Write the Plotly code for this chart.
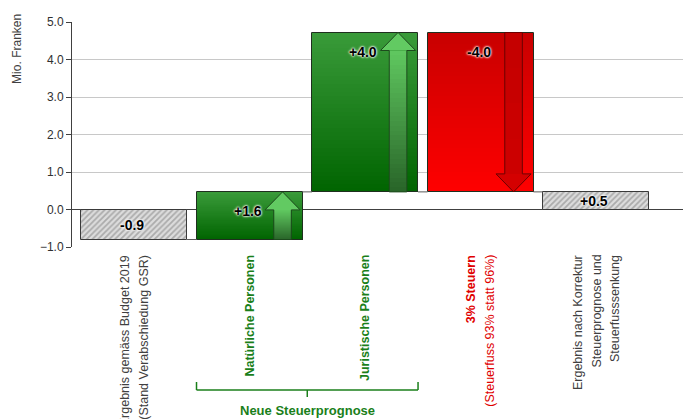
import plotly.graph_objects as go

# ---------------- data ----------------
category_lines = [
    ["Ergebnis gemäss Budget 2019", "(Stand Verabschiedung GSR)"],
    ["Natürliche Personen"],
    ["Juristische Personen"],
    ["3% Steuern", "(Steuerfuss 93% statt 96%)"],
    ["Ergebnis nach Korrektur", "Steuerprognose und", "Steuerfusssenkung"],
]
bar_start = [0.0, -0.8, 0.47, 4.72, 0.0]
bar_end = [-0.8, 0.47, 4.72, 0.47, 0.47]
value_labels = ["-0.9", "+1.6", "+4.0", "-4.0", "+0.5"]
group_label = "Neue Steuerprognose"
group_members = [1, 2]
y_ticks = [-1, 0, 1, 2, 3, 4, 5]

# ---------------- style ----------------
FONT = "Liberation Sans, Arial, sans-serif"
W = 0.918
GREEN_TXT = "#1a7f1a"
RED_TXT = "#e00000"
GRAY_TXT = "#404040"
cat_colors = [GRAY_TXT, GREEN_TXT, GREEN_TXT, RED_TXT, GRAY_TXT]
bold_first = [False, True, True, True, False]
totals = [0, 4]

PLOT_BOTTOM_PX = 247
PLOT_H_PX = 225


def py(px):
    return (PLOT_BOTTOM_PX - px) / PLOT_H_PX


def lerp(c0, c1, t):
    return "rgb(%d,%d,%d)" % tuple(round(a + (b - a) * t) for a, b in zip(c0, c1))


fig = go.Figure()

x = list(range(len(bar_start)))


def grad_bar(xc, lo_from, to, c_from, c_to, width, offset, n=40):
    """Gradient from lo_from (colour c_from) to 'to' (colour c_to) using overlapping slices."""
    xs, bases, hs, cols = [], [], [], []
    for k in range(n):
        yk = lo_from + (to - lo_from) * k / n
        xs.append(xc)
        bases.append(min(yk, to))
        hs.append(abs(to - yk))
        cols.append(lerp(c_from, c_to, (k + 0.5) / n))
    fig.add_bar(x=xs, y=hs, base=bases, width=width, offset=offset,
                marker=dict(color=cols, line=dict(width=0)),
                hoverinfo="skip")


# hatched total bars
fig.add_bar(
    x=[x[i] for i in totals],
    base=[min(bar_start[i], bar_end[i]) for i in totals],
    y=[abs(bar_end[i] - bar_start[i]) for i in totals],
    width=W,
    marker=dict(color="#dcdcdc",
                pattern=dict(shape="/", fgcolor="#7a7a7a", bgcolor="#dcdcdc", size=4, solidity=0.45),
                line=dict(color="#3a3a3a", width=1)),
    hoverinfo="skip",
)

# gradient change bars
GREEN_BOTTOM, GREEN_TOP = (0, 100, 0), (58, 155, 58)
RED_BOTTOM, RED_TOP = (255, 0, 0), (200, 0, 0)
for i in x:
    if i in totals:
        continue
    lo, hi = min(bar_start[i], bar_end[i]), max(bar_start[i], bar_end[i])
    if bar_end[i] > bar_start[i]:
        grad_bar(x[i], lo, hi, GREEN_BOTTOM, GREEN_TOP, W, -W / 2)
    else:
        grad_bar(x[i], lo, hi, RED_BOTTOM, RED_TOP, W, -W / 2)

# bar outlines
chg = [i for i in x if i not in totals]
fig.add_bar(
    x=[x[i] for i in chg],
    base=[min(bar_start[i], bar_end[i]) for i in chg],
    y=[abs(bar_end[i] - bar_start[i]) for i in chg],
    width=W,
    marker=dict(color="rgba(0,0,0,0)", line=dict(color="#1f2f1f", width=1)),
    hoverinfo="skip",
)

# connectors
cx, cy = [], []
for i in range(len(x) - 1):
    a = {round(bar_start[i], 4), round(bar_end[i], 4)}
    b = {round(bar_start[i + 1], 4), round(bar_end[i + 1], 4)}
    common = a & b
    if common:
        lvl = min(common)
        cx += [x[i] + W / 2, x[i + 1] - W / 2, None]
        cy += [lvl, lvl, None]
fig.add_scatter(x=cx, y=cy, mode="lines", line=dict(color="#5a5a5a", width=1), hoverinfo="skip")

# arrows
DX = 0.286
SW = 0.076
HW = 0.152
HL = 0.48
for i in chg:
    tail, tip = bar_start[i], bar_end[i]
    d = 1 if tip > tail else -1
    hb = tip - d * HL
    xc = x[i] + DX
    if d > 0:
        grad_bar(x[i], tail, hb, (40, 100, 40), (96, 200, 96), 2 * SW, DX - SW, n=30)
        head_col = "rgb(98,202,98)"
        out_col = "#1d4a1d"
    else:
        grad_bar(x[i], tail, hb, (196, 0, 0), (205, 0, 0), 2 * SW, DX - SW, n=4)
        head_col = "rgb(212,0,0)"
        out_col = "#6a0000"
    fig.add_scatter(x=[xc - HW, xc + HW, xc, xc - HW], y=[hb, hb, tip, hb],
                    mode="lines", fill="toself", fillcolor=head_col,
                    line=dict(width=0, color=head_col), hoverinfo="skip")
    fig.add_scatter(
        x=[xc - SW, xc - SW, xc - HW, xc, xc + HW, xc + SW, xc + SW, xc - SW],
        y=[tail, hb, hb, tip, hb, hb, tail, tail],
        mode="lines", line=dict(color=out_col, width=1), hoverinfo="skip")

annotations = []

# value labels
for i in x:
    if i in totals:
        yv, ya, ys = (bar_start[i] + bar_end[i]) / 2, "middle", 0
    else:
        yv, ya, ys = max(bar_start[i], bar_end[i]), "top", -9
    annotations.append(dict(
        x=x[i], y=yv, xref="x", yref="y", text=value_labels[i], showarrow=False,
        xanchor="center", yanchor=ya, yshift=ys, xshift=-2,
        font=dict(family=FONT, size=14, color="#000000", weight="bold",
                  shadow="0px 0px 2px #ffffff, 0px 0px 2px #ffffff, 0px 0px 3px #ffffff"),
    ))

# category labels (rotated)
for i, lines in enumerate(category_lines):
    n = len(lines)
    for j, line in enumerate(lines):
        bold = bold_first[i] and j == 0
        annotations.append(dict(
            x=x[i], y=0, xref="x", yref="paper", text=line, showarrow=False,
            textangle=-90, xanchor="center", yanchor="top",
            xshift=(j - (n - 1) / 2) * 18.5, yshift=-6,
            font=dict(family=FONT, size=12.5, color=cat_colors[i],
                      weight="bold" if bold else "normal"),
        ))

# y axis title
annotations.append(dict(
    x=0, y=1.045, xref="paper", yref="paper", text="Mio. Franken", showarrow=False,
    textangle=-90, xanchor="center", yanchor="top", xshift=-55,
    font=dict(family=FONT, size=12, color=GRAY_TXT),
))

# group bracket
gx0 = x[group_members[0]] - W / 2
gx1 = x[group_members[-1]] + W / 2
gxm = (x[group_members[0]] + x[group_members[-1]]) / 2
shapes = []
seg = [
    (gx0, py(382), gx0, py(390)),
    (gx0, py(390), gx1, py(390)),
    (gx1, py(382), gx1, py(390)),
    (gxm, py(390), gxm, py(397)),
]
for a0, b0, a1, b1 in seg:
    shapes.append(dict(type="line", xref="x", yref="paper", x0=a0, y0=b0, x1=a1, y1=b1,
                       line=dict(color=GREEN_TXT, width=1.5)))
annotations.append(dict(
    x=gxm, y=py(410), xref="x", yref="paper", text=group_label, showarrow=False,
    xanchor="center", yanchor="middle",
    font=dict(family=FONT, size=13, color=GREEN_TXT, weight="bold"),
))

fig.update_layout(
    width=683, height=419,
    margin=dict(l=72, r=0, t=22, b=172),
    paper_bgcolor="white", plot_bgcolor="white",
    barmode="overlay", bargap=0,
    showlegend=False,
    annotations=annotations,
    shapes=shapes,
    xaxis=dict(range=[-0.537, 4.753], showgrid=False, zeroline=False,
               showticklabels=False, showline=False, fixedrange=True),
    yaxis=dict(range=[-1, 5], tickvals=y_ticks, tickformat=".1f",
               showgrid=True, gridcolor="#c8c8c8", gridwidth=1,
               zeroline=True, zerolinecolor="#404040", zerolinewidth=1,
               showline=True, linecolor="#404040", linewidth=1,
               ticks="outside", ticklen=5, tickcolor="#404040",
               tickfont=dict(family=FONT, size=12, color="#303030")),
)

fig.write_html("out.html")
